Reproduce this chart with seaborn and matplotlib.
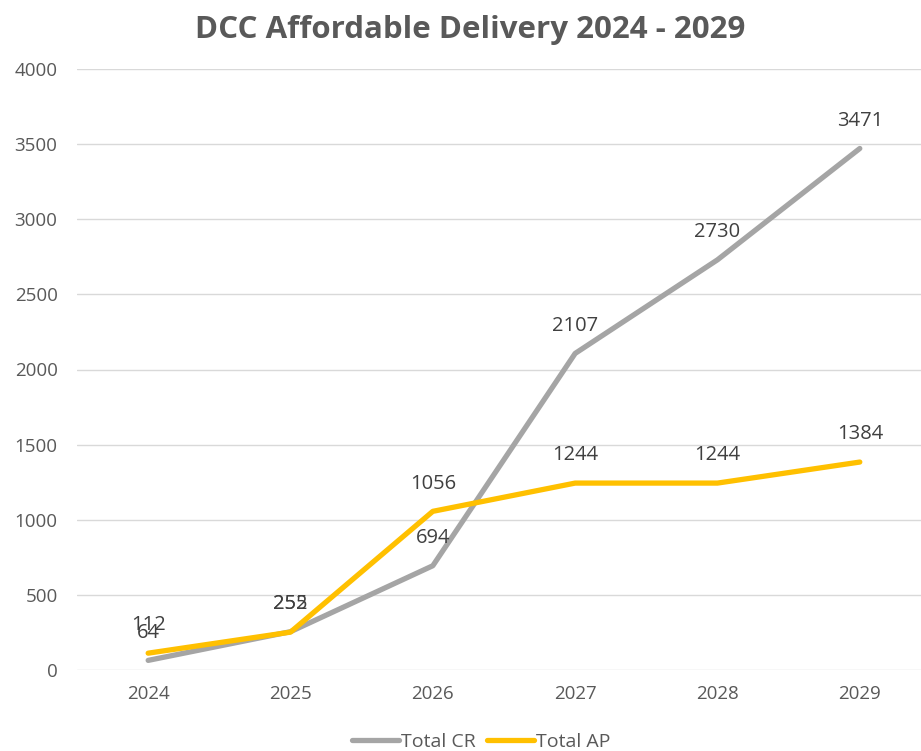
import matplotlib
matplotlib.use("Agg")
import matplotlib.pyplot as plt
import seaborn as sns
import pandas as pd

years = ["2024", "2025", "2026", "2027", "2028", "2029"]
total_cr = [64, 255, 694, 2107, 2730, 3471]
total_ap = [112, 252, 1056, 1244, 1244, 1384]
series_names = ["Total CR", "Total AP"]
colors = ["#A5A5A5", "#FFC000"]

sns.set_theme(style="white")
plt.rcParams['font.family'] = ['Open Sans', 'DejaVu Sans']

df = pd.DataFrame({
    "year": years * 2,
    "value": total_cr + total_ap,
    "series": [series_names[0]] * len(years) + [series_names[1]] * len(years),
})
df["x"] = list(range(len(years))) * 2

fig = plt.figure(figsize=(9.21, 7.51), dpi=100)
ax = fig.add_axes([77 / 921, 81 / 751, 1 - 77 / 921, (670 - 69) / 751])

sns.lineplot(data=df, x="x", y="value", hue="series", palette=colors,
             linewidth=3.8, ax=ax, legend=True, sort=False)

for vals in (total_cr, total_ap):
    for i, v in enumerate(vals):
        ax.annotate(str(v), (i, v), xytext=(0, 20), textcoords="offset points",
                    ha="center", va="center", fontsize=14.5, color="#404040")

ax.set_xlim(-0.5, 5.43)
ax.set_ylim(0, 4000)
ax.set_yticks(range(0, 4001, 500))
ax.set_xticks(range(len(years)))
ax.set_xticklabels(years)
ax.tick_params(axis="both", labelsize=13.5, colors="#595959", length=0)
ax.tick_params(axis="x", pad=11)
ax.tick_params(axis="y", pad=14)
ax.grid(axis="y", color="#D9D9D9", linewidth=1)
ax.set_xlabel("")
ax.set_ylabel("")
for s in ax.spines.values():
    s.set_visible(False)

fig.suptitle("DCC Affordable Delivery 2024 - 2029", x=0.51, y=0.98,
             fontsize=22.5, fontweight="bold", color="#595959")

leg = ax.legend(loc="upper center", bbox_to_anchor=(0.479, -0.075),
                ncol=2, frameon=False, fontsize=14, handlelength=2.4,
                handletextpad=0.1, columnspacing=0.6)
for t in leg.get_texts():
    t.set_color("#595959")
for line in leg.get_lines():
    line.set_linewidth(3.8)

fig.savefig("out.png", dpi=100)
